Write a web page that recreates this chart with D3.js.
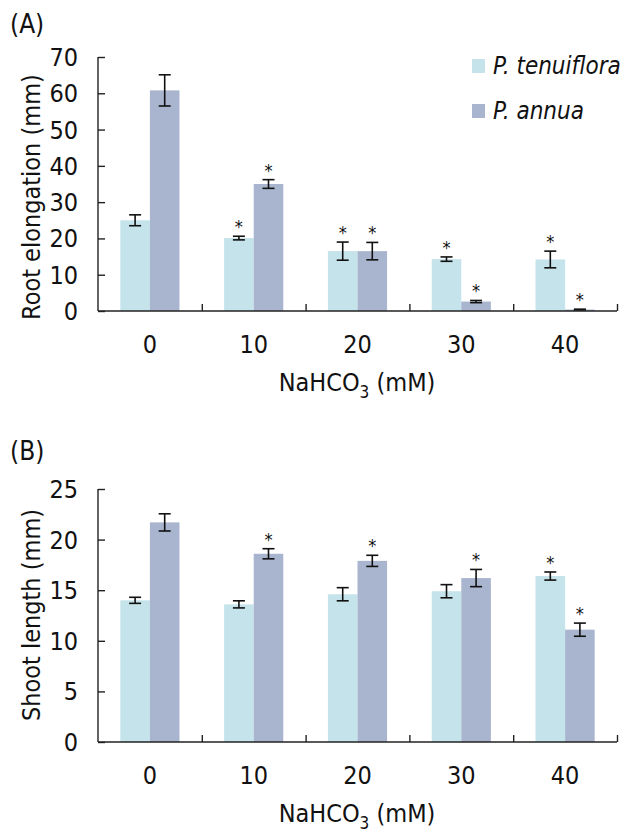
<!DOCTYPE html>
<head>
<meta charset="utf-8">
<script src="https://cdn.jsdelivr.net/npm/d3@7"></script>
<style>
  body { margin: 0; background: #fff; }
  text { font-family: "DejaVu Sans Condensed", "DejaVu Sans", sans-serif; fill: #111; }
</style>
</head>
<body>
<svg width="624" height="832"></svg>
<script>
var conc = ["0", "10", "20", "30", "40"]
var species = ["P. tenuiflora", "P. annua"]
var colors = ["#c5e3ea", "#a9b5cf"]

// (A) root elongation, mm
var rootTen = [25.0, 20.1, 16.5, 14.3, 14.2]
var rootTenErr = [1.5, 0.5, 2.5, 0.6, 2.3]
var rootAnn = [60.8, 35.0, 16.5, 2.6, 0.4]
var rootAnnErr = [4.3, 1.2, 2.4, 0.3, 0.1]
var rootStars = [[0, 1, 1, 1, 1], [0, 1, 1, 1, 1]]

// (B) shoot length, mm
var shootTen = [14.0, 13.6, 14.6, 14.9, 16.4]
var shootTenErr = [0.3, 0.35, 0.65, 0.65, 0.4]
var shootAnn = [21.7, 18.6, 17.9, 16.2, 11.1]
var shootAnnErr = [0.85, 0.5, 0.55, 0.85, 0.65]
var shootStars = [[0, 0, 0, 0, 1], [0, 1, 1, 1, 1]]

var svg = d3.select("svg")

function panel(o) {
  var g = svg.append("g")
  var x = d3.scaleBand().domain(conc).range([98, 617])
  var x1 = d3.scaleBand().domain(species).range([0, x.bandwidth() * 0.57])
  var off = (x.bandwidth() - x1.range()[1]) / 2
  var y = d3.scaleLinear().domain([0, o.max]).range([o.bottom, o.top])

  var rows = []
  conc.forEach(function (c, i) {
    rows.push({c: c, s: 0, v: o.ten[i], e: o.tenErr[i], star: o.stars[0][i]})
    rows.push({c: c, s: 1, v: o.ann[i], e: o.annErr[i], star: o.stars[1][i]})
  })
  function cx(d) { return x(d.c) + off + x1(species[d.s]) + x1.bandwidth() / 2 }

  g.selectAll("rect.bar").data(rows).enter().append("rect")
    .attr("x", function (d) { return x(d.c) + off + x1(species[d.s]) })
    .attr("width", x1.bandwidth())
    .attr("y", function (d) { return y(d.v) })
    .attr("height", function (d) { return y(0) - y(d.v) })
    .attr("fill", function (d) { return colors[d.s] })

  var eb = g.selectAll("g.err").data(rows).enter().append("g")
    .attr("stroke", "#111").attr("stroke-width", 1.6)
  eb.append("line")
    .attr("x1", cx).attr("x2", cx)
    .attr("y1", function (d) { return y(d.v + d.e) })
    .attr("y2", function (d) { return y(d.v - d.e) })
  eb.append("line")
    .attr("x1", function (d) { return cx(d) - 6 }).attr("x2", function (d) { return cx(d) + 6 })
    .attr("y1", function (d) { return y(d.v + d.e) }).attr("y2", function (d) { return y(d.v + d.e) })
  eb.append("line")
    .attr("x1", function (d) { return cx(d) - 6 }).attr("x2", function (d) { return cx(d) + 6 })
    .attr("y1", function (d) { return y(d.v - d.e) }).attr("y2", function (d) { return y(d.v - d.e) })

  g.selectAll("text.star").data(rows.filter(function (d) { return d.star })).enter().append("text")
    .attr("x", cx)
    .attr("y", function (d) { return y(d.v + d.e) - 3 })
    .attr("text-anchor", "middle")
    .style("font-size", "18px")
    .text("*")

  // axes
  var yAx = g.append("g").attr("transform", "translate(98,0)")
    .call(d3.axisRight(y).ticks(o.max / o.step).tickSize(7).tickFormat(""))
  yAx.select(".domain").attr("d", "M0," + o.top + "V" + o.bottom)
  yAx.selectAll("line, path").attr("stroke", "#222").attr("stroke-width", 1.4)
  g.selectAll("text.ytick").data(y.ticks(o.max / o.step)).enter().append("text")
    .attr("x", 78).attr("y", function (d) { return y(d) + 9 })
    .attr("text-anchor", "end")
    .style("font-size", "25px")
    .text(function (d) { return d })

  var xb = d3.scaleLinear().domain([0, conc.length]).range(x.range())
  var xAx = g.append("g").attr("transform", "translate(0," + o.bottom + ")")
    .call(d3.axisTop(xb).ticks(conc.length).tickSize(7).tickFormat(""))
  xAx.select(".domain").attr("d", "M98,0H617")
  xAx.selectAll("line, path").attr("stroke", "#222").attr("stroke-width", 1.4)
  xAx.selectAll(".tick").filter(function (d) { return d === 0 }).remove()

  g.selectAll("text.xtick").data(conc).enter().append("text")
    .attr("x", function (d) { return x(d) + x.bandwidth() / 2 })
    .attr("y", o.bottom + 42)
    .attr("text-anchor", "middle")
    .style("font-size", "25px")
    .text(function (d) { return d })

  var xt = g.append("text")
    .attr("x", 357).attr("y", o.bottom + 80)
    .attr("text-anchor", "middle")
    .style("font-size", "25px")
  xt.append("tspan").text("NaHCO")
  xt.append("tspan").attr("dy", 7).style("font-size", "17px").text("3")
  xt.append("tspan").attr("dy", -7).text(" (mM)")

  g.append("text")
    .attr("transform", "translate(40," + o.titleY + ") rotate(-90)")
    .attr("text-anchor", "middle")
    .style("font-size", "25px")
    .text(o.title)

  g.append("text").attr("x", 10).attr("y", o.labelY)
    .style("font-size", "26px").text(o.label)
}

panel({ten: rootTen, tenErr: rootTenErr, ann: rootAnn, annErr: rootAnnErr, stars: rootStars,
  max: 70, step: 10, top: 57, bottom: 311, title: "Root elongation (mm)", titleY: 197, label: "(A)", labelY: 33})
panel({ten: shootTen, tenErr: shootTenErr, ann: shootAnn, annErr: shootAnnErr, stars: shootStars,
  max: 25, step: 5, top: 489, bottom: 742, title: "Shoot length (mm)", titleY: 615, label: "(B)", labelY: 460})

// legend
var leg = svg.append("g").selectAll("g").data(species).enter().append("g")
  .attr("transform", function (d, i) { return "translate(472," + (59 + i * 45) + ")" })
leg.append("rect").attr("width", 13).attr("height", 14)
  .attr("fill", function (d, i) { return colors[i] })
leg.append("text").attr("x", 21).attr("y", 15)
  .style("font-size", "24px").style("font-style", "italic")
  .text(function (d) { return d })
</script>
</body>
